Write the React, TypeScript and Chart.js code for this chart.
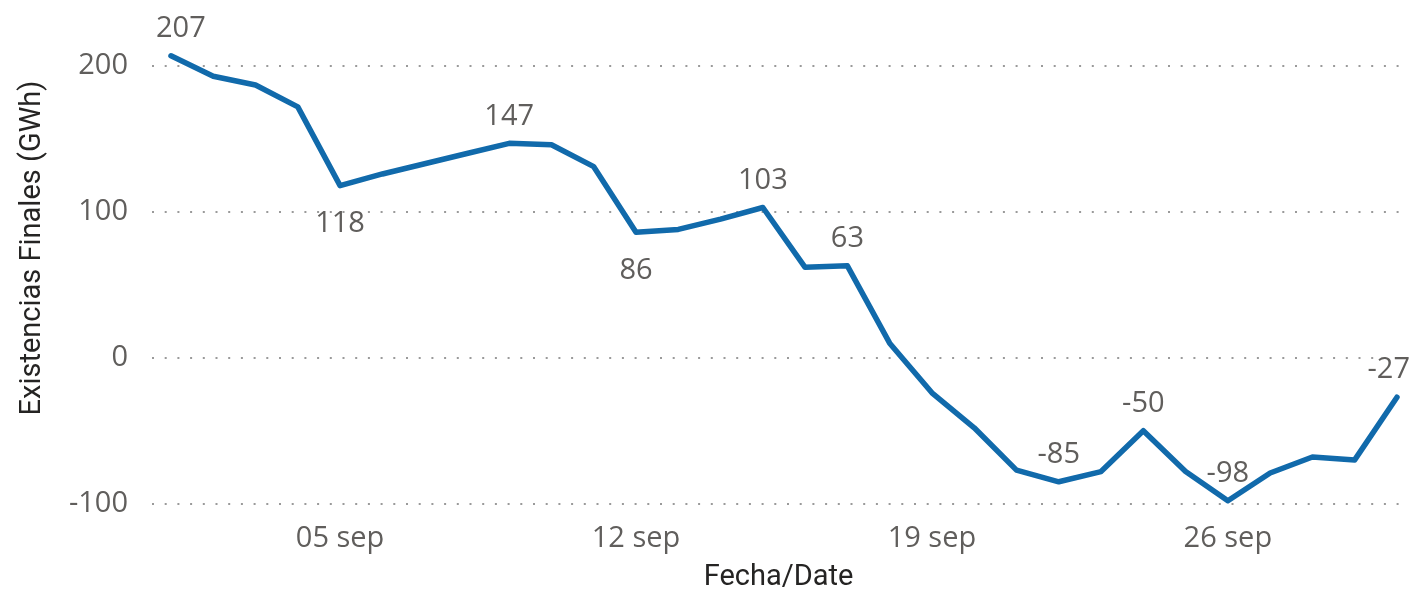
import React, { useEffect, useRef } from "react";
import { Chart, registerables } from "chart.js";

Chart.register(...registerables);

// ---- data ----
const days = [1, 2, 3, 4, 5, 6, 7, 8, 9, 10, 11, 12, 13, 14, 15, 16, 17, 18, 19, 20, 21, 22, 23, 24, 25, 26, 27, 28, 29, 30];
const stock = [207, 193, 187, 172, 118, 126, 133, 140, 147, 146, 131, 86, 88, 95, 103, 62, 63, 10, -24, -48, -77, -85, -78, -50, -78, -98, -79, -68, -70, -27];
const tickDays = [5, 12, 19, 26];
const monthLabel = "sep";
const yTicks = [-100, 0, 100, 200];
const labeledDays = [1, 5, 9, 12, 15, 17, 22, 24, 26, 30];
const labelsBelow = [5, 12];
const yTitle = "Existencias Finales (GWh)";
const xTitle = "Fecha/Date";

const LINE_COLOR = "#116AAB";
const TEXT_GRAY = "#605E5C";
const TITLE_COLOR = "#252423";
const NUM_FONT = "'Open Sans', 'Noto Sans', sans-serif";
const TITLE_FONT = "Roboto, 'Noto Sans', sans-serif";

const labelPlugin = {
  id: "pointLabels",
  afterDatasetsDraw(chart: any) {
    const meta = chart.getDatasetMeta(0);
    const ctx = chart.ctx;
    ctx.save();
    ctx.font = `400 29px ${NUM_FONT}`;
    ctx.fillStyle = TEXT_GRAY;
    ctx.textAlign = "center";
    ctx.textBaseline = "middle";
    labeledDays.forEach((d) => {
      const i = days.indexOf(d);
      const pt = meta.data[i];
      if (!pt) return;
      const text = String(stock[i]);
      const w = ctx.measureText(text).width;
      let x = pt.x;
      x = Math.max(x, chart.chartArea.left + 4 + w / 2);
      x = Math.min(x, chart.width - 3 - w / 2);
      const y = labelsBelow.includes(d) ? pt.y + 38 : pt.y - 27;
      ctx.fillText(text, x, y);
    });
    ctx.restore();

    // y-axis title
    ctx.save();
    ctx.translate(33, 248);
    ctx.rotate(-Math.PI / 2);
    ctx.font = `29px ${TITLE_FONT}`;
    ctx.fillStyle = TITLE_COLOR;
    ctx.textAlign = "center";
    ctx.textBaseline = "middle";
    ctx.fillText(yTitle, 0, 0);
    ctx.restore();
  },
};

export default function App() {
  const canvasRef = useRef<HTMLCanvasElement | null>(null);

  useEffect(() => {
    if (!canvasRef.current) return;
    const chart = new Chart(canvasRef.current, {
      type: "line",
      data: {
        datasets: [
          {
            data: days.map((d, i) => ({ x: d, y: stock[i] })),
            borderColor: LINE_COLOR,
            borderWidth: 5.5,
            borderCapStyle: "round",
            borderJoinStyle: "round",
            pointRadius: 0,
            tension: 0,
            fill: false,
          },
        ],
      },
      options: {
        responsive: false,
        animation: false,
        layout: { padding: { top: 33.9, right: 8, left: 0, bottom: 0 } },
        plugins: {
          legend: { display: false },
          tooltip: { enabled: false },
        },
        scales: {
          x: {
            type: "linear",
            min: 0.551,
            max: 30.19,
            afterBuildTicks: (axis: any) => {
              axis.ticks = tickDays.map((v) => ({ value: v }));
            },
            afterFit: (scale: any) => {
              scale.height = 81.5;
            },
            grid: { display: false, drawTicks: false },
            border: { display: false },
            ticks: {
              padding: 12,
              color: TEXT_GRAY,
              font: { family: NUM_FONT, size: 29, weight: "400", lineHeight: 1.2 },
              maxRotation: 0,
              autoSkip: false,
              callback: (v: any) => `${String(v).padStart(2, "0")} ${monthLabel}`,
            },
            title: {
              display: true,
              text: xTitle,
              color: TITLE_COLOR,
              font: { family: TITLE_FONT, size: 29, lineHeight: 1 },
              padding: { top: 0, bottom: -1 },
            },
          },
          y: {
            type: "linear",
            min: -104,
            max: 222,
            afterBuildTicks: (axis: any) => {
              axis.ticks = yTicks.map((v) => ({ value: v }));
            },
            afterFit: (scale: any) => {
              scale.width = 152;
            },
            grid: {
              color: "#9A9A9A",
              lineWidth: 2,
              drawTicks: true,
              tickLength: 24,
              tickColor: "rgba(0,0,0,0)",
            },
            border: { display: false, dash: [2, 10.7] },
            ticks: {
              padding: 0,
              color: TEXT_GRAY,
              font: { family: NUM_FONT, size: 29, weight: "400" },
            },
          },
        },
      },
      plugins: [labelPlugin],
    } as any);
    return () => chart.destroy();
  }, []);

  return (
    <div style={{ position: "fixed", left: 0, top: 0, width: 1413, height: 591, background: "#fff" }}>
      <canvas ref={canvasRef} width={1413} height={591} />
    </div>
  );
}
